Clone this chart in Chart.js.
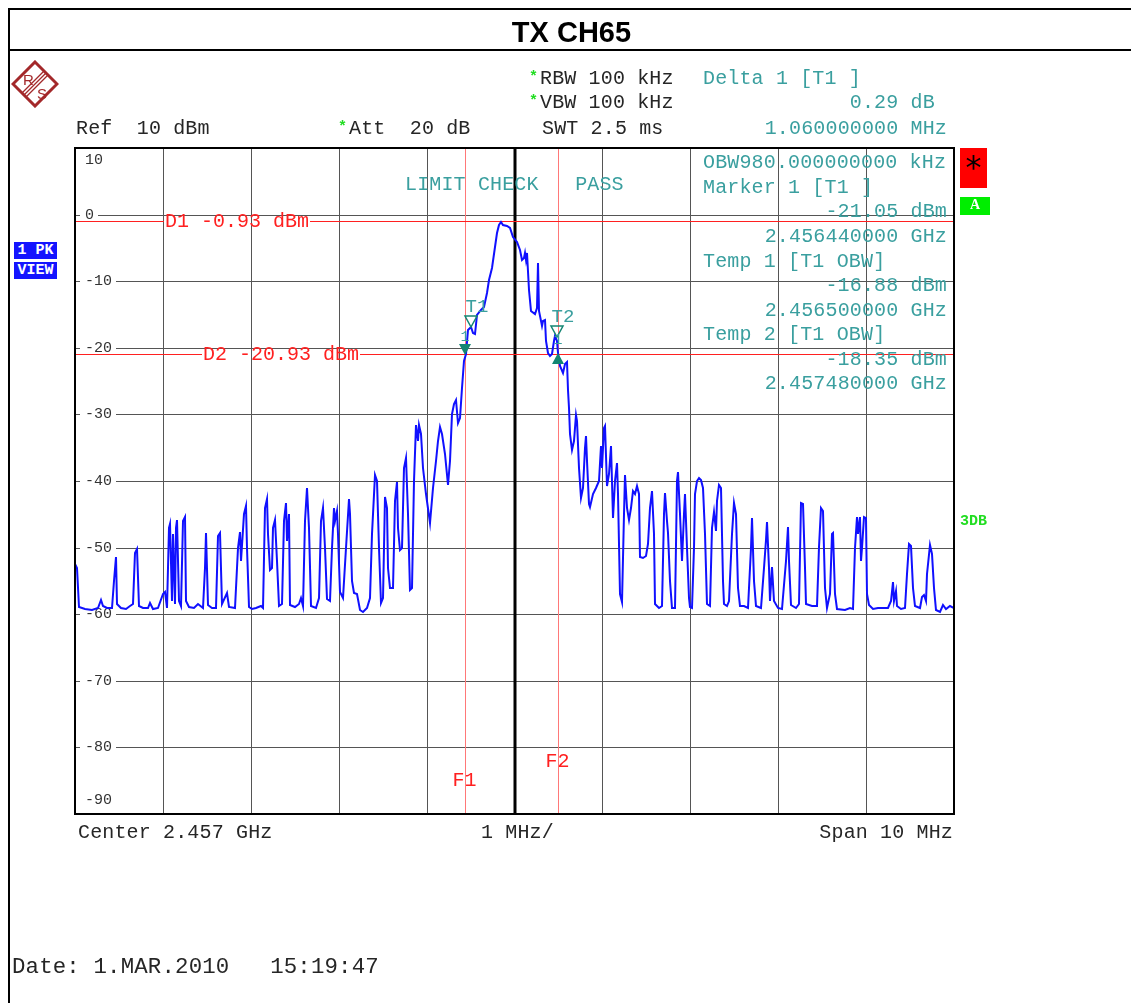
<!DOCTYPE html>
<html>
<head>
<meta charset="utf-8">
<script src="https://cdn.jsdelivr.net/npm/chart.js@4.4.1/dist/chart.umd.min.js"></script>
<style>
  html, body { margin: 0; padding: 0; background: #fff; }
  #page { position: relative; width: 1131px; height: 1003px; overflow: hidden; }
  #c { position: absolute; left: 0; top: 0; }
  .t { position: absolute; font: 20px "Liberation Mono", monospace; line-height: 20px; letter-spacing: 0.15px; white-space: pre; color: #262626; }
  .teal { color: #3a9f9f; }
  .r { text-align: right; }
  .star { position: absolute; font: bold 15px "Liberation Mono", monospace; color: #22dd22; line-height: 15px; }
  .box { position: absolute; font: bold 15px "Liberation Mono", monospace; color: #fff; text-align: center; }
</style>
</head>
<body>
<div id="page">
  <canvas id="c" width="1131" height="1003"></canvas>

  <!-- frame and title -->
  <div style="position:absolute;left:8px;top:8px;width:1140px;height:1010px;border:2px solid #000;box-sizing:border-box;"></div>
  <div style="position:absolute;left:8px;top:49px;width:1131px;height:2px;background:#000;"></div>
  <div style="position:absolute;left:8px;top:18px;width:1127px;text-align:center;font:bold 29px 'Liberation Sans', Arial, sans-serif;line-height:29px;color:#000;">TX CH65</div>

  <!-- R&S logo -->
  <svg style="position:absolute;left:11px;top:60px;" width="48" height="48" viewBox="0 0 48 48">
    <polygon points="24,2 46,24 24,46 2,24" fill="#fff" stroke="#a3282a" stroke-width="3"/>
    <line x1="33" y1="11" x2="11" y2="33" stroke="#a3282a" stroke-width="1.2"/>
    <line x1="35" y1="13" x2="13" y2="35" stroke="#a3282a" stroke-width="1.2"/>
    <line x1="37" y1="15" x2="15" y2="37" stroke="#a3282a" stroke-width="1.2"/>
    <text x="12" y="25" font-family="Liberation Sans, sans-serif" font-size="15" fill="#a3282a">R</text>
    <text x="26" y="39" font-family="Liberation Sans, sans-serif" font-size="15" fill="#a3282a">S</text>
  </svg>

  <!-- header -->
  <div class="t" style="left:76px;top:119px;">Ref  10 dBm</div>
  <div class="star" style="left:338px;top:120px;">*</div>
  <div class="t" style="left:349px;top:119px;">Att  20 dB</div>
  <div class="star" style="left:529px;top:70px;">*</div>
  <div class="t" style="left:540px;top:69px;">RBW 100 kHz</div>
  <div class="star" style="left:529px;top:94px;">*</div>
  <div class="t" style="left:540px;top:93px;">VBW 100 kHz</div>
  <div class="t" style="left:542px;top:119px;">SWT 2.5 ms</div>
  <div class="t teal" style="left:703px;top:69px;">Delta 1 [T1 ]</div>
  <div class="t teal r" style="left:703px;width:244px;top:93px;">0.29 dB </div>
  <div class="t teal r" style="left:703px;width:244px;top:119px;">1.060000000 MHz</div>

  <!-- marker table inside the grid -->
  <div class="t teal" style="left:703px;top:153px;">OBW980.000000000 kHz</div>
  <div class="t teal" style="left:703px;top:178px;">Marker 1 [T1 ]</div>
  <div class="t teal r" style="left:703px;width:244px;top:202px;">-21.05 dBm</div>
  <div class="t teal r" style="left:703px;width:244px;top:227px;">2.456440000 GHz</div>
  <div class="t teal" style="left:703px;top:252px;">Temp 1 [T1 OBW]</div>
  <div class="t teal r" style="left:703px;width:244px;top:276px;">-16.88 dBm</div>
  <div class="t teal r" style="left:703px;width:244px;top:301px;">2.456500000 GHz</div>
  <div class="t teal" style="left:703px;top:325px;">Temp 2 [T1 OBW]</div>
  <div class="t teal r" style="left:703px;width:244px;top:350px;">-18.35 dBm</div>
  <div class="t teal r" style="left:703px;width:244px;top:374px;">2.457480000 GHz</div>
  <div class="t teal" style="left:405px;top:175px;">LIMIT CHECK   PASS</div>

  <!-- side badges -->
  <div class="box" style="left:14px;top:242px;width:43px;height:17px;line-height:17px;background:#1414ff;">1 PK</div>
  <div class="box" style="left:14px;top:262px;width:43px;height:17px;line-height:17px;background:#1414ff;">VIEW</div>
  <div style="position:absolute;left:960px;top:148px;width:27px;height:40px;background:#ff0000;"></div>
  <div style="position:absolute;left:960px;top:151px;width:27px;text-align:center;font:32px 'DejaVu Sans', sans-serif;line-height:32px;color:#000;">*</div>
  <div class="box" style="left:960px;top:197px;width:30px;height:18px;line-height:18px;background:#00ee00;font:bold 14px 'Liberation Serif', serif;">A</div>
  <div class="star" style="left:960px;top:514px;">3DB</div>

  <!-- footer -->
  <div class="t" style="left:78px;top:823px;">Center 2.457 GHz</div>
  <div class="t" style="left:481px;top:823px;">1 MHz/</div>
  <div class="t r" style="left:700px;width:253px;top:823px;">Span 10 MHz</div>
  <div class="t" style="left:12px;top:956px;font-size:22.4px;line-height:22px;">Date: 1.MAR.2010   15:19:47</div>
</div>

<script>
// Spectrum trace: [offset from centre in MHz, level in dBm]
const trace = [
  [-5.000,-52.5],[-4.977,-53.0],[-4.954,-58.9],[-4.886,-59.2],[-4.807,-59.3],[-4.738,-59.0],[-4.704,-57.9],[-4.681,-58.8],
  [-4.636,-59.1],[-4.579,-59.0],[-4.556,-55.0],[-4.539,-51.4],[-4.522,-58.5],[-4.477,-59.0],[-4.420,-59.2],[-4.374,-58.8],
  [-4.340,-58.5],[-4.317,-50.8],[-4.295,-50.2],[-4.272,-58.7],[-4.226,-59.1],[-4.169,-59.0],[-4.147,-58.3],[-4.113,-59.2],
  [-4.056,-59.1],[-3.999,-57.0],[-3.976,-56.6],[-3.953,-59.0],[-3.936,-47.0],[-3.919,-46.4],[-3.902,-58.0],[-3.885,-48.0],
  [-3.868,-58.5],[-3.851,-47.0],[-3.834,-45.9],[-3.817,-58.0],[-3.794,-58.8],[-3.771,-46.0],[-3.754,-45.4],[-3.737,-58.0],
  [-3.703,-58.9],[-3.646,-59.1],[-3.601,-58.5],[-3.544,-59.0],[-3.521,-53.0],[-3.504,-47.8],[-3.487,-58.6],[-3.441,-59.1],
  [-3.396,-59.0],[-3.373,-48.3],[-3.350,-47.8],[-3.328,-58.5],[-3.274,-56.8],[-3.248,-58.9],[-3.180,-59.0],[-3.146,-50.0],
  [-3.123,-47.6],[-3.106,-52.0],[-3.077,-45.0],[-3.060,-43.8],[-3.043,-50.0],[-3.020,-58.9],[-2.986,-59.2],[-2.941,-59.0],
  [-2.884,-58.7],[-2.861,-59.0],[-2.838,-44.0],[-2.821,-42.7],[-2.804,-48.0],[-2.781,-53.4],[-2.764,-53.0],[-2.747,-47.0],
  [-2.725,-45.9],[-2.702,-52.0],[-2.679,-58.8],[-2.645,-58.5],[-2.622,-46.0],[-2.605,-43.3],[-2.588,-49.0],[-2.571,-45.0],
  [-2.554,-58.6],[-2.497,-58.9],[-2.452,-58.4],[-2.429,-57.6],[-2.406,-58.8],[-2.383,-46.0],[-2.361,-41.1],[-2.338,-47.0],
  [-2.315,-58.7],[-2.258,-59.0],[-2.224,-57.5],[-2.201,-46.0],[-2.179,-44.0],[-2.156,-50.0],[-2.133,-57.7],[-2.099,-58.0],
  [-2.076,-50.0],[-2.059,-44.0],[-2.042,-46.0],[-2.025,-44.5],[-2.008,-48.0],[-1.985,-56.7],[-1.951,-57.5],[-1.917,-50.0],
  [-1.888,-42.7],[-1.871,-45.0],[-1.849,-55.0],[-1.826,-56.8],[-1.792,-57.0],[-1.758,-59.4],[-1.723,-59.6],[-1.678,-59.0],
  [-1.644,-57.5],[-1.621,-48.0],[-1.587,-39.1],[-1.564,-40.0],[-1.541,-50.0],[-1.519,-58.3],[-1.496,-57.5],[-1.473,-42.4],
  [-1.456,-44.0],[-1.439,-53.0],[-1.416,-56.1],[-1.382,-56.0],[-1.359,-43.0],[-1.337,-40.2],[-1.320,-47.0],[-1.302,-50.4],
  [-1.280,-50.0],[-1.257,-38.0],[-1.234,-36.6],[-1.211,-45.0],[-1.189,-56.4],[-1.166,-56.0],[-1.143,-40.0],[-1.120,-31.6],
  [-1.103,-34.0],[-1.086,-31.6],[-1.064,-33.0],[-1.041,-38.0],[-1.007,-42.0],[-0.961,-46.3],[-0.927,-41.0],[-0.893,-37.0],
  [-0.870,-34.0],[-0.847,-31.9],[-0.825,-33.0],[-0.791,-36.0],[-0.756,-40.6],[-0.734,-37.0],[-0.711,-30.0],[-0.688,-28.5],
  [-0.665,-27.9],[-0.643,-31.3],[-0.620,-30.5],[-0.597,-26.0],[-0.574,-22.0],[-0.557,-21.0],[-0.529,-17.3],[-0.495,-16.9],
  [-0.472,-17.8],[-0.449,-17.9],[-0.426,-15.0],[-0.381,-14.3],[-0.347,-13.8],[-0.313,-11.8],[-0.290,-9.8],[-0.256,-8.0],
  [-0.222,-4.8],[-0.199,-2.8],[-0.176,-1.5],[-0.159,-1.1],[-0.131,-1.5],[-0.085,-1.7],[-0.051,-2.0],[-0.017,-3.3],
  [0.029,-4.1],[0.063,-5.3],[0.091,-6.8],[0.108,-6.5],[0.120,-5.8],[0.131,-6.8],[0.146,-5.8],[0.169,-11.3],
  [0.188,-14.5],[0.233,-14.9],[0.251,-14.0],[0.262,-7.3],[0.279,-14.5],[0.310,-16.8],[0.324,-16.0],[0.347,-15.8],
  [0.359,-19.0],[0.376,-20.8],[0.404,-21.3],[0.427,-21.0],[0.444,-19.0],[0.461,-18.3],[0.478,-19.0],[0.495,-20.8],
  [0.518,-22.8],[0.555,-23.8],[0.575,-22.5],[0.594,-22.1],[0.612,-26.3],[0.620,-29.0],[0.637,-33.0],[0.654,-35.3],
  [0.677,-34.0],[0.694,-30.1],[0.711,-31.0],[0.734,-38.0],[0.757,-42.5],[0.780,-41.0],[0.797,-35.0],[0.808,-33.3],
  [0.825,-37.0],[0.842,-43.5],[0.859,-43.9],[0.893,-42.0],[0.927,-41.0],[0.962,-40.0],[0.981,-34.8],[0.996,-38.0],
  [1.013,-32.0],[1.030,-31.8],[1.053,-40.7],[1.075,-39.0],[1.098,-34.8],[1.117,-45.6],[1.144,-40.0],[1.163,-37.3],
  [1.178,-42.0],[1.200,-57.0],[1.223,-58.1],[1.246,-45.0],[1.257,-39.1],[1.280,-44.0],[1.303,-45.9],[1.326,-44.0],
  [1.348,-41.5],[1.371,-42.0],[1.394,-40.8],[1.411,-42.0],[1.428,-51.4],[1.462,-51.6],[1.496,-51.3],[1.519,-49.5],
  [1.542,-44.0],[1.565,-41.5],[1.582,-48.0],[1.599,-58.5],[1.644,-59.1],[1.678,-58.8],[1.701,-45.0],[1.712,-41.8],
  [1.730,-46.0],[1.747,-47.8],[1.769,-55.0],[1.792,-59.1],[1.826,-59.0],[1.849,-40.0],[1.860,-38.6],[1.883,-45.0],
  [1.906,-52.0],[1.929,-45.0],[1.940,-41.9],[1.963,-50.0],[1.980,-57.5],[1.997,-58.9],[2.020,-59.0],[2.042,-50.0],
  [2.059,-42.0],[2.077,-40.0],[2.099,-39.5],[2.122,-39.8],[2.145,-41.0],[2.168,-48.0],[2.190,-58.5],[2.224,-58.8],
  [2.247,-47.0],[2.270,-44.6],[2.287,-47.5],[2.304,-43.0],[2.327,-40.6],[2.350,-41.0],[2.367,-55.0],[2.384,-58.5],
  [2.418,-58.8],[2.441,-58.0],[2.475,-48.0],[2.497,-43.3],[2.520,-45.0],[2.537,-56.0],[2.566,-58.8],[2.611,-58.7],
  [2.657,-59.0],[2.685,-50.0],[2.702,-45.6],[2.725,-55.0],[2.748,-58.8],[2.805,-59.0],[2.839,-53.0],[2.856,-48.9],
  [2.873,-46.1],[2.890,-53.0],[2.907,-58.0],[2.930,-52.9],[2.953,-58.0],[2.998,-59.1],[3.044,-59.2],[3.089,-52.0],
  [3.106,-46.9],[3.123,-52.0],[3.146,-58.6],[3.203,-59.0],[3.237,-58.5],[3.254,-43.3],[3.282,-43.5],[3.300,-53.0],
  [3.317,-58.5],[3.385,-58.8],[3.442,-58.7],[3.464,-49.9],[3.487,-44.1],[3.510,-44.5],[3.527,-56.0],[3.556,-59.1],
  [3.590,-57.0],[3.607,-48.0],[3.624,-47.8],[3.641,-57.0],[3.669,-59.2],[3.760,-59.3],[3.817,-59.0],[3.851,-59.2],
  [3.874,-50.0],[3.891,-45.4],[3.908,-48.0],[3.925,-45.4],[3.942,-52.0],[3.959,-50.0],[3.976,-45.4],[3.999,-45.5],
  [4.011,-57.0],[4.033,-58.6],[4.079,-59.2],[4.136,-59.0],[4.193,-59.1],[4.249,-59.0],[4.284,-58.0],[4.301,-55.1],
  [4.318,-58.0],[4.335,-56.5],[4.352,-58.7],[4.397,-59.2],[4.443,-59.0],[4.466,-54.0],[4.483,-49.4],[4.511,-49.8],
  [4.528,-56.0],[4.557,-58.8],[4.614,-59.0],[4.636,-57.4],[4.659,-57.1],[4.676,-58.0],[4.693,-54.0],[4.722,-49.6],
  [4.750,-51.0],[4.773,-56.0],[4.796,-59.3],[4.841,-59.6],[4.875,-58.6],[4.909,-59.2],[4.955,-58.8],[5.000,-59.0]
];

// axis setup (span 10 MHz, ref 10 dBm, 10 dB/div)
const spanMin = -5, spanMax = 5;
const refLevel = 10, bottomLevel = -90;
const yTicks = [10, 0, -10, -20, -30, -40, -50, -60, -70, -80, -90];

// display lines and frequency lines
const displayLineDbm = [-0.93, -20.93];
const displayLineText = ['D1 -0.93 dBm', 'D2 -20.93 dBm'];
const freqLineMHz = [-0.56, 0.50];
const freqLineText = ['F1', 'F2'];

// markers: M1, T1, T2, delta 1
const markerMHz = [-0.56, -0.50, 0.48, 0.50];
const markerDbm = [-21.05, -16.88, -18.35, -20.76];
const markerKind = ['filledDown', 'hollowDown', 'hollowDown', 'filledUp'];
const markerText = ['1', 'T1', 'T2', '1'];

const RED = '#ff2020';
const TEAL = '#3a9f9f';
const MARK = '#138572';

function hline(ctx, x1, x2, y) {
    ctx.beginPath(); ctx.moveTo(x1, y); ctx.lineTo(x2, y); ctx.stroke();
}
function vline(ctx, x, y1, y2) {
    ctx.beginPath(); ctx.moveTo(x, y1); ctx.lineTo(x, y2); ctx.stroke();
}

const analyzerOverlay = {
    id: 'analyzerOverlay',
    beforeDatasetsDraw(chart) {
        const { ctx, chartArea: a, scales: { x, y } } = chart;
        ctx.save();

        // y labels sit inside the grid, on a white patch
        ctx.font = '15px "Liberation Mono", monospace';
        ctx.textBaseline = 'middle';
        yTicks.forEach(v => {
            let py = y.getPixelForValue(v);
            if (v === refLevel) py += 12;
            if (v === bottomLevel) py -= 14;
            const txt = String(v);
            const w = ctx.measureText(txt).width;
            ctx.fillStyle = '#fff';
            ctx.fillRect(a.left + 5, py - 6, w + 9, 12);
            ctx.fillStyle = '#333';
            ctx.fillText(txt, a.left + 10, py);
        });

        // centre frequency line
        ctx.strokeStyle = '#000';
        ctx.lineWidth = 3;
        vline(ctx, Math.round(x.getPixelForValue(0)), a.top, a.bottom);

        // F1 / F2
        ctx.strokeStyle = '#ff7878';
        ctx.lineWidth = 1;
        ctx.font = '20px "Liberation Mono", monospace';
        ctx.textAlign = 'center';
        freqLineMHz.forEach((f, i) => {
            const px = Math.round(x.getPixelForValue(f)) + 0.5;
            vline(ctx, px, a.top, a.bottom);
            ctx.fillStyle = RED;
            ctx.fillText(freqLineText[i], px - 1, a.bottom - (i === 0 ? 33 : 52));
        });

        // D1 / D2 with the label breaking the line
        ctx.strokeStyle = RED;
        ctx.textAlign = 'left';
        const labelStart = [90, 128];
        displayLineDbm.forEach((d, i) => {
            const py = Math.round(y.getPixelForValue(d)) + 0.5;
            const lx = a.left + labelStart[i];
            const w = ctx.measureText(displayLineText[i]).width;
            hline(ctx, a.left, lx - 1, py);
            hline(ctx, lx + w + 1, a.right, py);
            ctx.fillStyle = RED;
            ctx.fillText(displayLineText[i], lx, py);
        });
        ctx.restore();
    },
    afterDatasetsDraw(chart) {
        const { ctx, chartArea: a, scales: { x, y } } = chart;
        ctx.save();

        markerMHz.forEach((f, i) => {
            const px = x.getPixelForValue(f);
            const py = y.getPixelForValue(markerDbm[i]);
            const kind = markerKind[i];
            const dir = kind === 'filledUp' ? 1 : -1;
            ctx.beginPath();
            ctx.moveTo(px, py);
            ctx.lineTo(px - 6, py + dir * 11);
            ctx.lineTo(px + 6, py + dir * 11);
            ctx.closePath();
            if (kind === 'hollowDown') {
                ctx.strokeStyle = MARK; ctx.lineWidth = 1.5; ctx.stroke();
            } else {
                ctx.fillStyle = MARK; ctx.fill();
            }
            ctx.fillStyle = TEAL;
            ctx.textAlign = 'center';
            ctx.textBaseline = 'middle';
            if (markerText[i] === '1') {
                ctx.font = '15px "Liberation Mono", monospace';
                ctx.fillText('1', px, kind === 'filledUp' ? py - 13 : py - 18);
            } else {
                ctx.font = '19px "Liberation Mono", monospace';
                ctx.fillText(markerText[i], px + 6, py - 20);
            }
        });

        // grid frame
        ctx.strokeStyle = '#000';
        ctx.lineWidth = 2;
        ctx.strokeRect(a.left, a.top, a.right - a.left, a.bottom - a.top);
        ctx.restore();
    }
};

new Chart(document.getElementById('c'), {
    type: 'line',
    data: {
        datasets: [{
            data: trace.map(([f, lvl]) => ({ x: f, y: lvl })),
            borderColor: '#1010ff',
            borderWidth: 2,
            pointRadius: 0,
            tension: 0
        }]
    },
    options: {
        responsive: false,
        devicePixelRatio: 1,
        animation: false,
        events: [],
        layout: { padding: { left: 75, top: 148, right: 177, bottom: 189 } },
        plugins: { legend: { display: false }, tooltip: { enabled: false } },
        scales: {
            x: {
                type: 'linear', min: spanMin, max: spanMax, alignToPixels: true,
                ticks: { display: false, stepSize: 1 },
                grid: { color: '#555555', drawTicks: false },
                border: { display: false },
                afterFit(s) { s.height = 0; }
            },
            y: {
                type: 'linear', min: bottomLevel, max: refLevel, alignToPixels: true,
                ticks: { display: false, stepSize: 10 },
                grid: { color: '#555555', drawTicks: false },
                border: { display: false },
                afterFit(s) { s.width = 0; }
            }
        }
    },
    plugins: [analyzerOverlay]
});
</script>
</body>
</html>
